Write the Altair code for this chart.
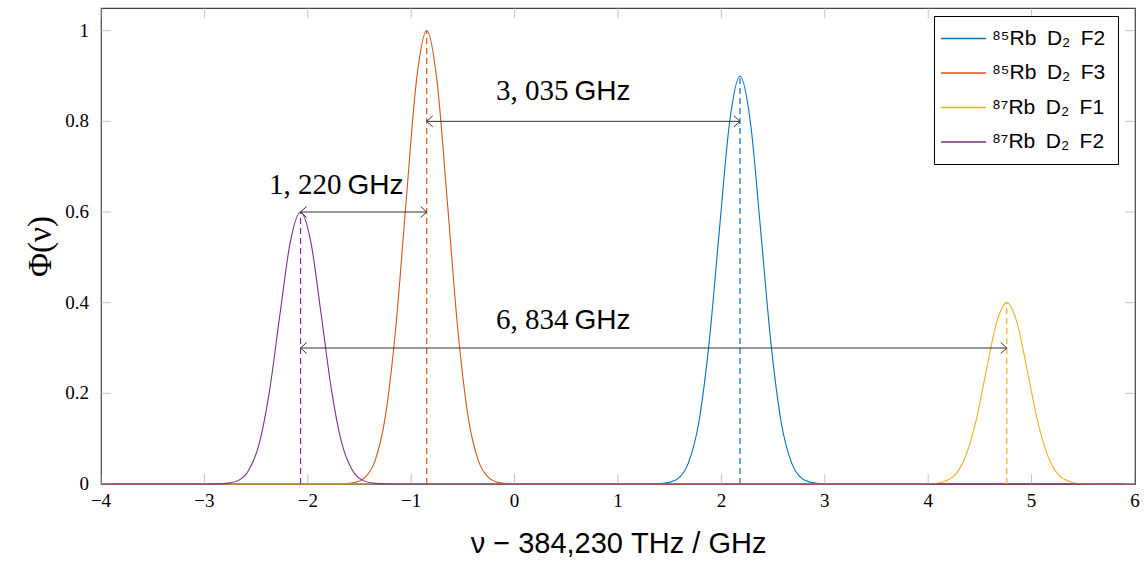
import altair as alt
import pandas as pd

# ---- series data ----
series_names = ["⁸⁵Rb\u2002D₂\u2002F2", "⁸⁵Rb\u2002D₂\u2002F3", "⁸⁷Rb\u2002D₂\u2002F1", "⁸⁷Rb\u2002D₂\u2002F2"]
series_colors = ["#0072BD", "#D95319", "#EDB120", "#7E2F8E"]

blue_x = [-4.0, 1.28, 1.38, 1.48, 1.58, 1.68, 1.78, 1.88, 1.98, 2.08, 2.18,
          2.28, 2.38, 2.48, 2.58, 2.68, 2.78, 2.88, 2.98, 3.08, 6.0]
blue_y = [0, 0, 0.0005, 0.003, 0.012, 0.046, 0.134, 0.309, 0.559, 0.799, 0.9,
          0.799, 0.559, 0.309, 0.134, 0.046, 0.012, 0.003, 0.0005, 0, 0]

orange_x = [-4.0, -1.75, -1.65, -1.55, -1.45, -1.35, -1.25, -1.15, -1.05, -0.95, -0.85,
            -0.75, -0.65, -0.55, -0.45, -0.35, -0.25, -0.15, -0.05, 0.05, 6.0]
orange_y = [0, 0, 0.0005, 0.003, 0.014, 0.051, 0.149, 0.343, 0.621, 0.888, 1.0,
            0.888, 0.621, 0.343, 0.149, 0.051, 0.014, 0.003, 0.0005, 0, 0]

yellow_x = [-4.0, 3.86, 3.96, 4.06, 4.16, 4.26, 4.36, 4.46, 4.56, 4.66, 4.76,
            4.86, 4.96, 5.06, 5.16, 5.26, 5.36, 5.46, 5.56, 5.66, 6.0]
yellow_y = [0, 0, 0.0002, 0.001, 0.006, 0.020, 0.060, 0.137, 0.248, 0.355, 0.4,
            0.355, 0.248, 0.137, 0.060, 0.020, 0.006, 0.001, 0.0002, 0, 0]

purple_x = [-4.0, -2.97, -2.87, -2.77, -2.67, -2.57, -2.47, -2.37, -2.27, -2.17, -2.07,
            -1.97, -1.87, -1.77, -1.67, -1.57, -1.47, -1.37, -1.27, -1.17, 6.0]
purple_y = [0, 0, 0.0003, 0.002, 0.008, 0.031, 0.089, 0.206, 0.373, 0.533, 0.6,
            0.533, 0.373, 0.206, 0.089, 0.031, 0.008, 0.002, 0.0003, 0, 0]

peak_centers = [2.18, -0.85, 4.76, -2.07]
peak_heights = [0.9, 1.0, 0.4, 0.6]

arrow_start = [-2.07, -0.85, -2.07]
arrow_end = [-0.85, 2.18, 4.76]
arrow_y = [0.6, 0.8, 0.3]

label_numbers = ["1, 220", "3, 035", "6, 834"]
label_unit = ["GHz", "GHz", "GHz"]
label_x = [-1.645, 0.55, 0.55]
label_y = [0.64, 0.848, 0.343]

x_ticks = [-4, -3, -2, -1, 0, 1, 2, 3, 4, 5, 6]
x_tick_labels = ["−4", "−3", "−2", "−1", "0", "1", "2", "3", "4", "5", "6"]
y_ticks = [0, 0.2, 0.4, 0.6, 0.8, 1.0]
y_tick_labels = ["0", "0.2", "0.4", "0.6", "0.8", "1"]

X_TITLE = "ν − 384,230 THz / GHz"
Y_TITLE = "Φ(ν)"

# ---- tables ----
rows = []
for name, xs_, ys_ in zip(series_names, [blue_x, orange_x, yellow_x, purple_x],
                          [blue_y, orange_y, yellow_y, purple_y]):
    for i, (a, b) in enumerate(zip(xs_, ys_)):
        rows.append({"series": name, "x": a, "y": b, "order": i})
curves = pd.DataFrame(rows)

peaks = pd.DataFrame({"series": series_names, "center": peak_centers,
                      "peak": peak_heights, "zero": [0] * 4})
arrows = pd.DataFrame({"x1": arrow_start, "x2": arrow_end, "y": arrow_y})
labels = pd.DataFrame({"num": label_numbers, "unit": label_unit, "x": label_x, "y": label_y})
xt = pd.DataFrame({"v": x_ticks, "t": x_tick_labels})
yt = pd.DataFrame({"v": y_ticks, "t": y_tick_labels})

xs = alt.Scale(domain=[-4, 6], nice=False, zero=False)
ys = alt.Scale(domain=[0, 1.05], nice=False, zero=False)
cs = alt.Scale(domain=series_names, range=series_colors)

TICK = "#aaaaaa"
INK = "#333333"

XAX = alt.Axis(
    values=x_ticks, labels=False, ticks=False, tickSize=0, domain=False, grid=False,
    title=X_TITLE, titleFont="Liberation Sans", titleFontSize=29,
    titleFontWeight="normal", titleColor="black", titleX=517, titleY=68,
    titleAlign="center", titleBaseline="alphabetic")
YAX = alt.Axis(
    values=y_ticks, labels=False, ticks=False, tickSize=0, domain=False, grid=False,
    title=Y_TITLE, titleFont="Liberation Serif", titleFontSize=33, titleFontWeight="normal",
    titleColor="black", titleAngle=270, titleX=-61, titleY=238,
    titleAlign="center", titleBaseline="middle")
LEG = alt.Legend(
    title=None, orient="none", legendX=833, legendY=8,
    symbolType="M -4.5 0 H 4.5", symbolSize=100, symbolStrokeWidth=1.5,
    symbolOffset=7, labelOffset=18,
    labelFont="Liberation Sans", labelFontSize=21, labelColor="black",
    fillColor="white", strokeColor="black", padding=12, rowPadding=12.5)


def X(field):
    return alt.X(field, scale=xs, axis=XAX, title=X_TITLE)


def Y(field):
    return alt.Y(field, scale=ys, axis=YAX, title=Y_TITLE)


def XD(v):
    return alt.XDatum(v, scale=xs, axis=XAX, title=X_TITLE)


def YD(v):
    return alt.YDatum(v, scale=ys, axis=YAX, title=Y_TITLE)


ticks_b = alt.Chart(xt).mark_tick(orient="vertical", size=20, thickness=1, color=TICK, clip=True).encode(
    x=X("v:Q"), y=YD(0))
ticks_t = alt.Chart(xt).mark_tick(orient="vertical", size=20, thickness=1, color=TICK, clip=True).encode(
    x=X("v:Q"), y=YD(1.05))
ticks_l = alt.Chart(yt).mark_tick(orient="horizontal", size=20, thickness=1, color=TICK, clip=True).encode(
    y=Y("v:Q"), x=XD(-4))
ticks_r = alt.Chart(yt).mark_tick(orient="horizontal", size=20, thickness=1, color=TICK, clip=True).encode(
    y=Y("v:Q"), x=XD(6))

xlab = alt.Chart(xt).mark_text(font="Liberation Serif", fontSize=19, color="black",
                               align="center", baseline="top", dy=8).encode(
    x=X("v:Q"), y=YD(0), text="t:N")
ylab = alt.Chart(yt).mark_text(font="Liberation Serif", fontSize=19, color="black",
                               align="right", baseline="middle", dx=-12).encode(
    y=Y("v:Q"), x=XD(-4), text="t:N")

lines = alt.Chart(curves).mark_line(interpolate="monotone", strokeWidth=1.1).encode(
    x=X("x:Q"),
    y=Y("y:Q"),
    color=alt.Color("series:N", scale=cs, sort=series_names, legend=LEG),
    order="order:Q")

rules = alt.Chart(peaks).mark_rule(strokeDash=[6, 4], strokeWidth=1.2).encode(
    x=X("center:Q"),
    y=Y("zero:Q"),
    y2="peak:Q",
    color=alt.Color("series:N", scale=cs, sort=series_names, legend=LEG))

arrow_lines = alt.Chart(arrows).mark_rule(color=INK, strokeWidth=1).encode(
    x=X("x1:Q"), x2="x2:Q", y=Y("y:Q"))
heads_l = alt.Chart(arrows).mark_point(shape="M 1.1 -1 L 0 0 L 1.1 1", size=121, filled=False,
                                       color=INK, strokeWidth=1, opacity=1).encode(
    x=X("x1:Q"), y=Y("y:Q"))
heads_r = alt.Chart(arrows).mark_point(shape="M -1.1 -1 L 0 0 L -1.1 1", size=121, filled=False,
                                       color=INK, strokeWidth=1, opacity=1).encode(
    x=X("x2:Q"), y=Y("y:Q"))

num_text = alt.Chart(labels).mark_text(font="Liberation Serif", fontSize=29, align="right",
                                       baseline="alphabetic", dx=-3, color="black").encode(
    x=X("x:Q"), y=Y("y:Q"), text="num:N")
unit_text = alt.Chart(labels).mark_text(font="Liberation Sans", fontSize=28, align="left",
                                        baseline="alphabetic", dx=3, color="black").encode(
    x=X("x:Q"), y=Y("y:Q"), text="unit:N")

chart = alt.layer(
    lines, ticks_b, ticks_t, ticks_l, ticks_r, rules, arrow_lines, heads_l, heads_r,
    num_text, unit_text, xlab, ylab
).properties(
    width=1034, height=476,
    padding={"left": 101, "top": 8, "right": 11, "bottom": 81},
    autosize=alt.AutoSizeParams(type="none"),
    background="white",
).configure_view(
    stroke="#444444", strokeWidth=1.2
)

chart.save("out.html", embed_options={"renderer": "svg", "actions": False})
